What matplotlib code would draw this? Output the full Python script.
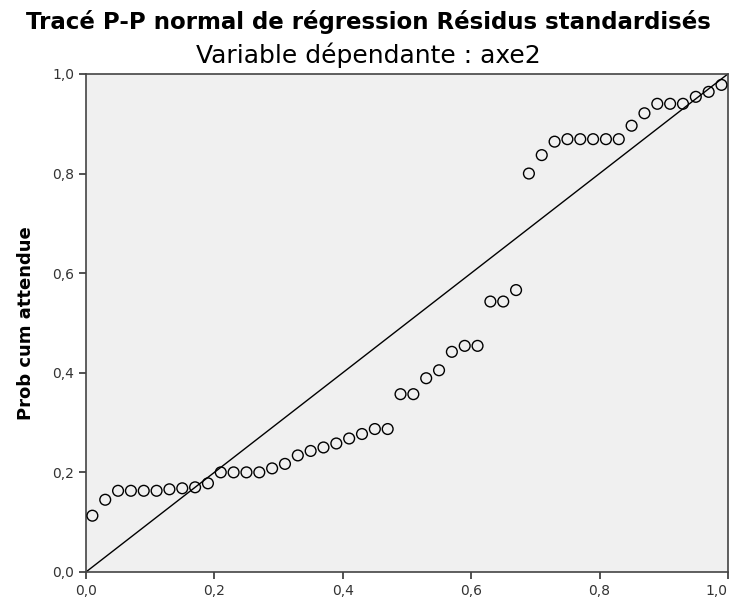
import matplotlib.pyplot as plt

obs_prob = [0.01, 0.03, 0.05, 0.07, 0.09, 0.11, 0.13, 0.15, 0.17, 0.19,
            0.21, 0.23, 0.25, 0.27, 0.29, 0.31, 0.33, 0.35, 0.37, 0.39,
            0.41, 0.43, 0.45, 0.47, 0.49, 0.51, 0.53, 0.55, 0.57, 0.59,
            0.61, 0.63, 0.65, 0.67, 0.69, 0.71, 0.73, 0.75, 0.77, 0.79,
            0.81, 0.83, 0.85, 0.87, 0.89, 0.91, 0.93, 0.95, 0.97, 0.99]
exp_prob = [0.113, 0.145, 0.163, 0.163, 0.163, 0.163, 0.166, 0.168, 0.170, 0.178,
            0.200, 0.200, 0.200, 0.200, 0.208, 0.217, 0.234, 0.243, 0.250, 0.258,
            0.268, 0.277, 0.287, 0.287, 0.357, 0.357, 0.389, 0.405, 0.442, 0.454,
            0.454, 0.543, 0.543, 0.566, 0.800, 0.837, 0.864, 0.869, 0.869, 0.869,
            0.869, 0.869, 0.896, 0.921, 0.940, 0.940, 0.940, 0.954, 0.964, 0.978]

ticks = [0.0, 0.2, 0.4, 0.6, 0.8, 1.0]
tick_labels = ["0,0", "0,2", "0,4", "0,6", "0,8", "1,0"]

plt.rcParams['font.family'] = ['DejaVu Sans']

fig = plt.figure(figsize=(7.36, 6.01), dpi=100)
ax = fig.add_axes([0.1168, 0.0483, 0.8722, 0.8287])
ax.set_facecolor('#f0f0f0')

ax.plot([0, 1], [0, 1], color='black', linewidth=1.0)
ax.scatter(obs_prob, exp_prob, s=60, facecolors='none', edgecolors='black',
           linewidths=1.0, zorder=3)

ax.set_xlim(0, 1)
ax.set_ylim(0, 1)
ax.set_xticks(ticks)
ax.set_xticklabels(tick_labels)
ax.set_yticks(ticks)
ax.set_yticklabels(tick_labels)
ax.tick_params(direction='out', length=5, width=1.2, labelsize=10,
               colors='#333333')
# last x label would run off the right edge
ax.get_xticklabels()[-1].set_ha('right')
for s in ax.spines.values():
    s.set_color('#444444')
    s.set_linewidth(1.2)

ax.set_ylabel("Prob cum attendue", fontsize=13, fontweight='bold', labelpad=12)

fig.text(0.5, 0.963, "Tracé P-P normal de régression Résidus standardisés",
         ha='center', va='center', fontsize=16.5, fontweight='bold')
fig.text(0.5, 0.908, "Variable dépendante : axe2",
         ha='center', va='center', fontsize=18)

fig.savefig("out.png", dpi=100)
